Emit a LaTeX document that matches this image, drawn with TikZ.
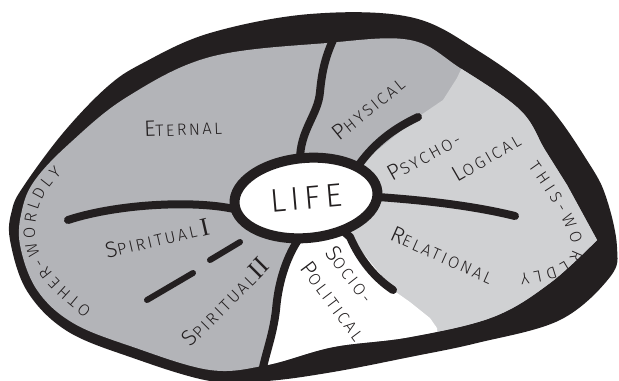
\documentclass[tikz,border=0pt]{standalone}
\usepackage{fontspec}
\setmainfont{Fira Sans}[UprightFont=* Light, LetterSpace=15]
\newfontfamily\numeralfont{Liberation Serif}
\usepackage{xcolor}
\usepackage{tikz}
\usetikzlibrary{shapes.geometric,decorations.text}

\definecolor{inkblack}{HTML}{231F20}
\definecolor{otherworld}{HTML}{B3B4B8}
\definecolor{thisworld}{HTML}{D0D1D3}

\newcommand{\smallcaps}{\fontsize{14}{14}\selectfont}
\newcommand{\hand}[2]{{\fontsize{19}{19}\selectfont #1}#2}
\newcommand{\numeral}[1]{{\numeralfont\fontsize{22}{22}\selectfont #1}}

\begin{document}
\begin{tikzpicture}[
  x=0.3mm, y=-0.3mm,
  band/.style={fill=inkblack},
  divider/.style={draw=inkblack, line width=2.4mm, line cap=round},
  dashmark/.style={draw=inkblack, line width=1.8mm, line cap=round},
  lifering/.style={
    ellipse,
    draw=inkblack,
    fill=white,
    line width=3mm,
    minimum width=43mm,
    minimum height=24mm,
    rotate=5,
    text=inkblack,
    font=\fontsize{28}{28}\selectfont
  },
  region/.style={font=\smallcaps, inner sep=0pt, text=inkblack}
]
  \useasboundingbox (0,0) rectangle (619,380);

  \fill[band] plot[smooth cycle, tension=0.6] coordinates {
    (610,277) (560,320) (477,343) (410,357) (333,372) (267,381) (210,381)
    (133,358) (67,331) (27,291) (10,240) (12,210) (23,187) (63,133)
    (107,87) (143,63) (210,33) (310,14) (410,17) (477,50) (543,100)
    (590,165) (607,200) (617,247)};

  \begin{scope}
    \clip plot[smooth, tension=0.6] coordinates {
      (597,240) (550,283) (493,317) (410,337) (333,347) (267,365) (210,370)
      (133,347) (73,323) (37,290) (20,245) (22,210) (35,180) (70,143)
      (127,97) (210,57) (327,43) (410,40) (460,68) (520,110) (545,150)
      (567,185)} -- cycle;
    \fill[otherworld] (0,0) rectangle (619,380);
    \fill[thisworld] (306,198) -- (358,166) -- (418,117) -- (443,100)
      -- (457,78) -- (470,50) -- (640,50) -- (640,400) -- (445,400)
      -- (437,328) -- (430,318) -- (410,302) -- (393,290) -- (350,237) -- cycle;
    \fill[white] (306,198) -- (298,240) .. controls (285,260) and (278,285) .. (276,310)
      .. controls (273,335) and (266,352) .. (262,372) -- (262,400) -- (445,400)
      -- (437,328) -- (430,318) -- (410,302) -- (393,290) -- (350,237) -- cycle;
  \end{scope}

  \coordinate (hub) at (306,198);
  \draw[divider] (hub) -- (300,160) .. controls (300,130) and (318,115) .. (320,92)
    .. controls (322,70) and (326,55) .. (334,38);
  \draw[divider] (hub) -- (358,166) .. controls (375,142) and (395,128) .. (418,117);
  \draw[divider] (hub) -- (378,197) .. controls (420,200) and (470,205) .. (515,216);
  \draw[divider] (hub) -- (350,237) .. controls (360,260) and (375,278) .. (393,290);
  \draw[divider] (hub) -- (298,240) .. controls (285,260) and (278,285) .. (276,310)
    .. controls (273,335) and (266,352) .. (262,372);
  \draw[divider] (hub) -- (238,210) .. controls (200,200) and (120,203) .. (68,220);
  \draw[dashmark] (147,300) -- (193,273);
  \draw[dashmark] (210,260) -- (240,242);

  \node[lifering] (life) at (hub) {LIFE};

  \node[region, rotate=2] (eternal) at (183,128) {\hand{E}{TERNAL}};
  \node[region, rotate=39] (physical) at (368,108) {\hand{P}{HYSICAL}};
  \node[region, rotate=29] (psycho) at (424,156) {\hand{P}{SYCHO-}};
  \node[region, rotate=30] (logical) at (486,157) {\hand{L}{OGICAL}};
  \node[region, rotate=-24] (relational) at (442,255) {\hand{R}{ELATIONAL}};
  \node[region, rotate=-52] (socio) at (350,274) {\hand{S}{OCIO-}};
  \node[region, rotate=-53] (political) at (333,301) {\hand{P}{OLITICAL}};
  \node[region, rotate=45] (spiritualtwo) at (225,302) {\hand{S}{PIRITUAL}\,\numeral{II}};
  \node[region, rotate=13] (spiritualone) at (157,238) {\hand{S}{PIRITUAL}\;\numeral{I}};

  \path[decorate, decoration={text along path, text align={fit to path},
      text={|\color{inkblack}\smallcaps|OTHER-WORLDLY}}]
    (92,309) .. controls (62,285) and (35,262) .. (35,232)
    .. controls (35,205) and (48,185) .. (62,174);
  \path[decorate, decoration={text along path, text align={fit to path},
      text={|\color{inkblack}\smallcaps|THIS-WORLDLY}}]
    (528,166) .. controls (548,194) and (566,222) .. (572,244)
    .. controls (576,262) and (552,270) .. (520,274);
\end{tikzpicture}
\end{document}
